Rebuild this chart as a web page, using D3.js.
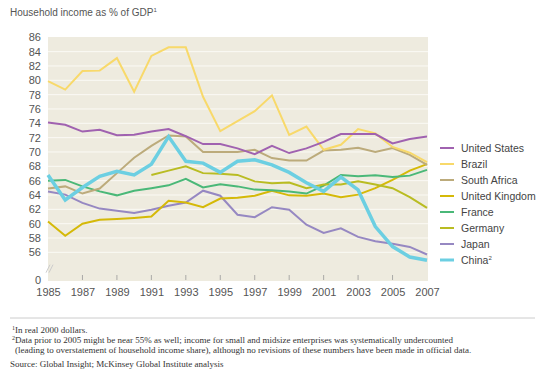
<!DOCTYPE html>
<html><head><meta charset="utf-8">
<script src="https://cdn.jsdelivr.net/npm/d3@7"></script>
<style>
body{margin:0;background:#fff;}
svg{display:block;}
</style></head>
<body>
<svg id="c" width="545" height="379"></svg>
<script>
const years = d3.range(1985, 2008);
const seriesNames = ["United States","Brazil","South Africa","United Kingdom","France","Germany","Japan","China"];
const unitedStates = [74.1,73.8,72.85,73.1,72.35,72.4,72.85,73.2,72.2,71.1,71.1,70.5,69.7,70.85,69.85,70.5,71.4,72.5,72.5,72.5,71.2,71.8,72.15];
const brazil = [79.9,78.7,81.3,81.35,83.1,78.4,83.4,84.6,84.6,77.7,72.9,74.3,75.7,77.9,72.4,73.55,70.3,71.0,73.2,72.6,70.7,69.9,68.6];
const southAfrica = [64.9,65.2,64.2,64.9,67.05,69.2,70.85,72.3,72.15,70.0,70.0,70.0,70.3,69.15,68.8,68.8,70.2,70.3,70.6,70.0,70.55,69.6,68.2];
const unitedKingdom = [60.3,58.3,60.0,60.55,60.65,60.8,61.0,63.2,62.95,62.3,63.5,63.6,63.9,64.6,63.95,63.9,64.2,63.7,64.05,64.95,66.1,67.4,68.3];
const france = [66.0,66.1,65.2,64.5,63.95,64.6,64.95,65.35,66.25,65.05,65.5,65.2,64.75,64.65,64.5,64.2,65.3,66.8,66.6,66.75,66.5,66.7,67.5];
const germany = [null,null,null,null,null,null,66.8,67.4,68.0,67.05,66.95,66.8,65.9,65.65,65.75,64.95,65.45,65.45,65.9,65.45,64.95,63.7,62.2];
const japan = [64.5,64.05,62.9,62.1,61.8,61.5,61.95,62.5,62.95,64.6,63.9,61.25,60.9,62.3,61.95,59.85,58.7,59.35,58.15,57.55,57.2,56.75,55.7];
const china = [66.8,63.3,65.05,66.6,67.3,66.8,68.3,72.15,68.7,68.45,67.15,68.7,68.9,68.2,67.15,65.7,64.5,66.5,64.7,59.6,56.8,55.35,54.9];
const yTickValues = [56,58,60,62,64,66,68,70,72,74,76,78,80,82,84,86];
const xTickLabels = [1985,1987,1989,1991,1993,1995,1997,1999,2001,2003,2005,2007];
const colors = ["#a062b0","#f8d96a","#bcab7b","#d5b908","#4ab878","#b9bc22","#9688c2","#6ccfe2"];
const widths = [2,2,2,2,2,2,2,3.5];
const allValues = [unitedStates,brazil,southAfrica,unitedKingdom,france,germany,japan,china];

const svg = d3.select("#c");
const L=48,R=427,T=37,B=281;
const x = d3.scaleLinear().domain([1985,2007]).range([L,R]);
const y = d3.scaleLinear().domain([52,86]).range([B,T+0.3]);
const fontNarrow = "Liberation Sans Narrow, Arial Narrow, Liberation Sans, sans-serif";

svg.append("text").attr("x",10).attr("y",16).attr("font-family",fontNarrow)
  .attr("font-size",10).attr("fill","#555").text("Household income as % of GDP")
  .append("tspan").attr("dy",-4).attr("font-size",6).text("1");

svg.append("rect").attr("x",L).attr("y",T).attr("width",R-L+1).attr("height",B-T).attr("fill","#eeebdf");

// gridlines
svg.append("g").selectAll("line").data(yTickValues.slice(0,-1)).join("line")
  .attr("x1",L).attr("x2",R+1).attr("y1",d=>y(d)).attr("y2",d=>y(d))
  .attr("stroke","#fbfaf5").attr("stroke-width",1);

// y axis labels
const yAxis = d3.axisLeft(y).tickValues(yTickValues.concat([52])).tickSize(0).tickPadding(7)
  .tickFormat(d=> d===52 ? "0" : d);
const gy = svg.append("g").attr("transform",`translate(${L},0)`).call(yAxis);
gy.select(".domain").remove();
gy.selectAll("text").attr("font-family",fontNarrow).attr("font-size",11).attr("fill","#555");
gy.selectAll(".tick").filter(d=>d===52).attr("transform",`translate(0,${y(52)-1})`);

// x axis
const xAxis = d3.axisBottom(x).tickValues(xTickLabels).tickSize(0).tickPadding(7).tickFormat(d3.format("d"));
const gx = svg.append("g").attr("transform",`translate(0,${B})`).call(xAxis);
gx.select(".domain").remove();
gx.selectAll("text").attr("font-family",fontNarrow).attr("font-size",11).attr("fill","#555");
svg.append("g").selectAll("line").data(xTickLabels.slice(1,-1)).join("line")
  .attr("x1",d=>x(d)).attr("x2",d=>x(d)).attr("y1",B-1).attr("y2",B-6)
  .attr("stroke","#999").attr("stroke-width",0.8);

// axis break
const brk = svg.append("g").attr("stroke","#ccc").attr("stroke-width",1).attr("fill","none");
brk.append("path").attr("d",`M${L-2},${y(54)+6} L${L+2},${y(54)-2}`);
brk.append("path").attr("d",`M${L+1},${y(54)+6} L${L+5},${y(54)-2}`);

// lines
const line = d3.line().defined(d=>d!=null).x((d,i)=>x(years[i])).y(d=>y(d));
const order = [6,3,4,5,2,1,0,7];
svg.append("g").selectAll("path").data(order).join("path")
  .attr("d",k=>line(allValues[k])).attr("fill","none")
  .attr("stroke",k=>colors[k]).attr("stroke-width",k=>widths[k])
  .attr("stroke-linejoin","miter");

// legend
const lg = svg.append("g").attr("transform","translate(440,148)");
seriesNames.forEach((n,i)=>{
  const g = lg.append("g").attr("transform",`translate(0,${i*16})`);
  g.append("line").attr("x1",0).attr("x2",14).attr("y1",0).attr("y2",0)
    .attr("stroke",colors[i]).attr("stroke-width",widths[i]===2?2:3);
  const t = g.append("text").attr("x",21).attr("y",4).attr("font-family",fontNarrow)
    .attr("font-size",10.5).attr("fill","#444").text(n);
  if(n==="China") t.append("tspan").attr("dy",-4).attr("font-size",6).text("2");
});

// footer
svg.append("line").attr("x1",10).attr("x2",535).attr("y1",318).attr("y2",318).attr("stroke","#ccc").attr("stroke-width",1);
const serif = "Liberation Serif, DejaVu Serif, serif";
const foot = [
  {y:333,sup:"1",t:"In real 2000 dollars.",x:12},
  {y:343,sup:"2",t:"Data prior to 2005 might be near 55% as well; income for small and midsize enterprises was systematically undercounted",x:12},
  {y:353,sup:"",t:"(leading to overstatement of household income share), although no revisions of these numbers have been made in official data.",x:15},
  {y:367,sup:"",t:"Source: Global Insight; McKinsey Global Institute analysis",x:10}
];
foot.forEach(f=>{
  const t = svg.append("text").attr("x",f.x).attr("y",f.y).attr("font-family",serif)
    .attr("font-size",9).attr("fill","#333");
  if(f.sup){ t.append("tspan").attr("font-size",6).attr("dy",-3).text(f.sup);
    t.append("tspan").attr("dy",3).text(f.t);} else t.text(f.t);
});
</script>
</body></html>
